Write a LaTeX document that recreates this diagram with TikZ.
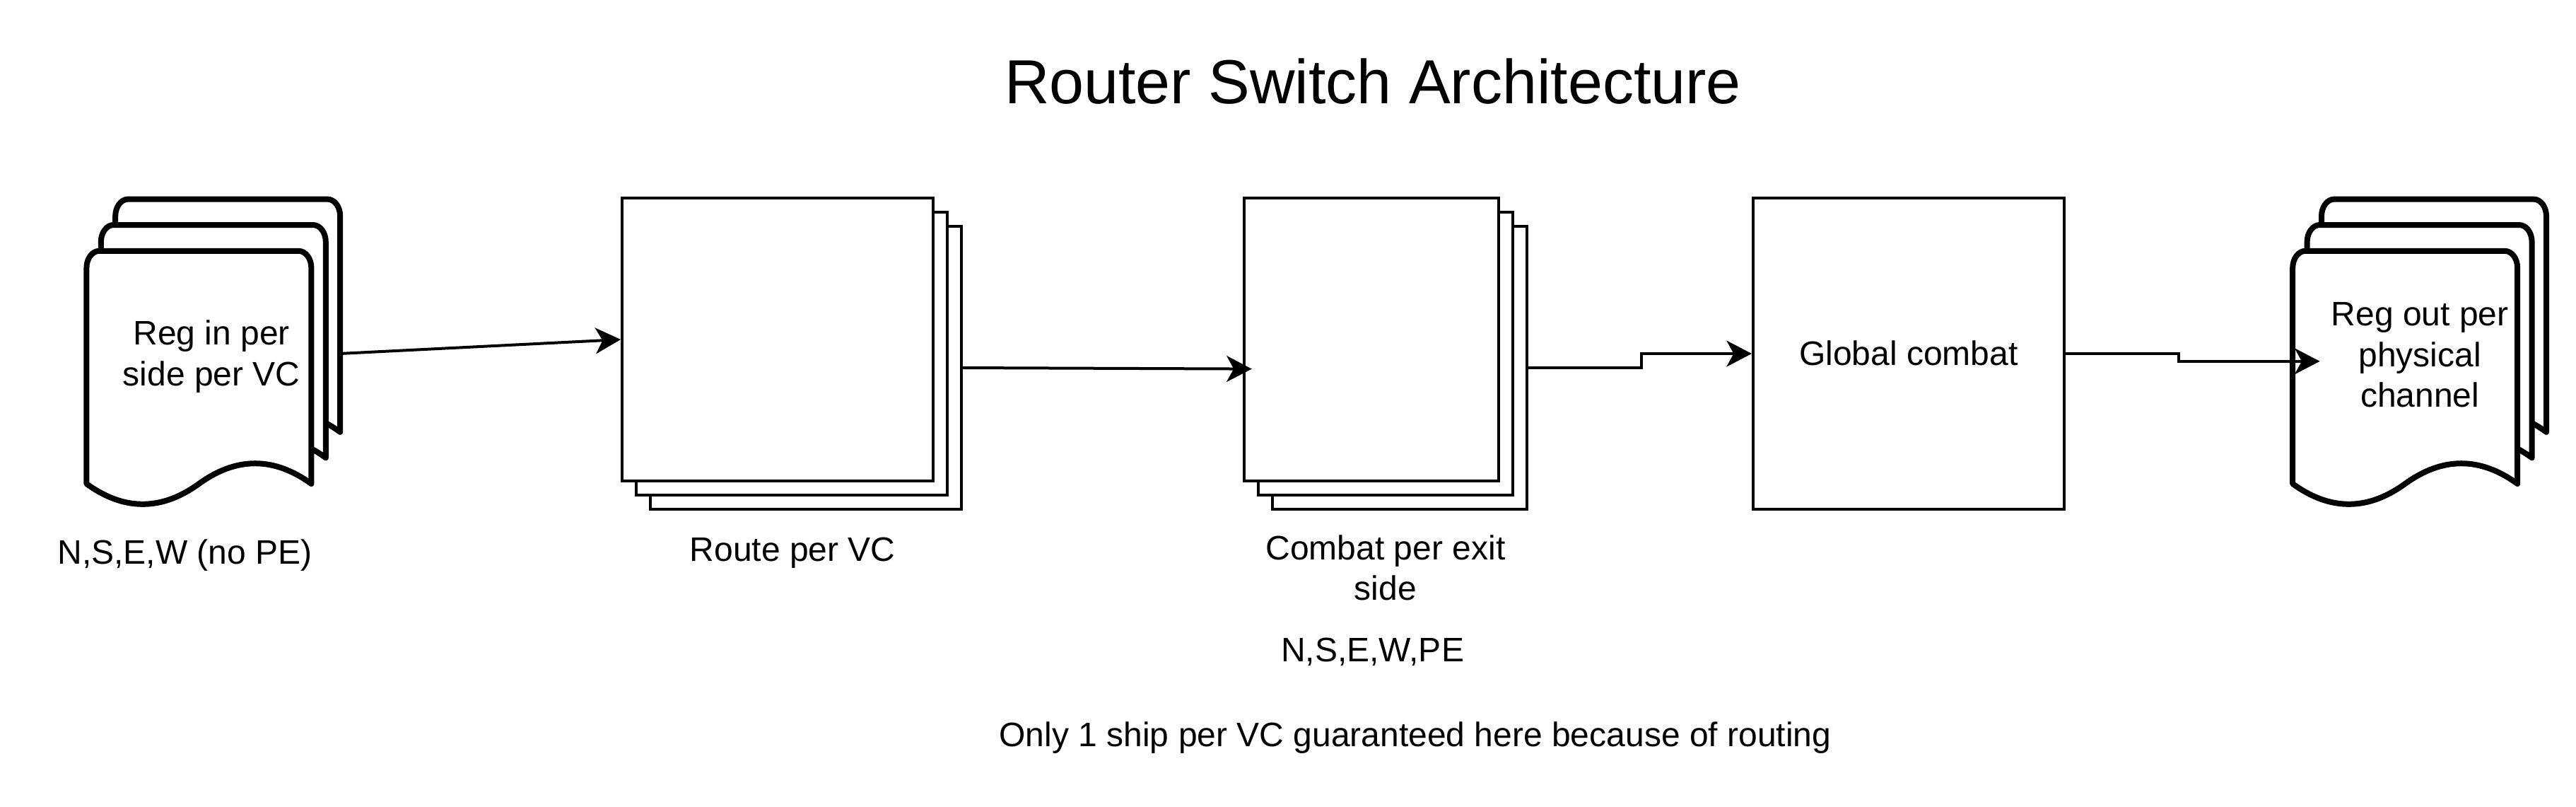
\documentclass[tikz,border=0pt]{standalone}
\usepackage{fontspec}
\setmainfont{Liberation Sans}
\usetikzlibrary{arrows.meta}
\newcommand\dstrut{\rule[-3.04pt]{0pt}{14.4pt}}
\newcommand\tstrut{\rule[-5.57pt]{0pt}{26.4pt}}
% one page of a stacked document: #1 = left x, #2 = top y
\newcommand\docpage[2]{%
  \path[docline] (#1,#2+82.3) -- (#1,#2+6)
    .. controls (#1,#2+2.7) and (#1+2,#2) .. (#1+4.5,#2)
    -- (#1+75,#2)
    .. controls (#1+77.5,#2) and (#1+79.5,#2+2.7) .. (#1+79.5,#2+6)
    -- (#1+79.5,#2+82.3)
    .. controls (#1+66.25,#2+72.7) and (#1+53,#2+72.7) .. (#1+39.75,#2+82.3)
    .. controls (#1+26.5,#2+91.9) and (#1+13.25,#2+91.9) .. (#1,#2+82.3) -- cycle;}
\tikzset{
  lbl/.style={inner sep=0pt, align=center, font=\fontsize{12}{14.4}\selectfont},
  ttl/.style={inner sep=0pt, font=\fontsize{22}{26.4}\selectfont},
  box/.style={draw, line width=1pt, fill=white, inner sep=0pt},
  docline/.style={draw, line width=2pt, fill=white, line join=round},
  arr/.style={line width=1pt, -{Stealth[length=8.9pt,width=9.2pt,inset=2.5pt]}},
}
\begin{document}
\begin{tikzpicture}[x=1pt, y=-1pt]
\useasboundingbox (0,0) rectangle (911,285);
\fill[white] (0,0) rectangle (911,285);

% title
\node[ttl] (title) at (485.5,29) {\tstrut Router Switch Architecture};

% left stacked documents
\docpage{40.8}{70.4}
\docpage{35.7}{79.5}
\docpage{30.6}{88.7}
\node[lbl, minimum width=90pt, minimum height=110pt] (regin) at (74.8,125)
  {\dstrut Reg in per\\\dstrut side per VC};
\node[lbl] (t1) at (65.4,195.3) {\dstrut N,S,E,W (no PE)};

% route stack
\node[box, minimum width=110pt, minimum height=100pt] (rb) at (285,130) {};
\node[box, minimum width=110pt, minimum height=100pt] (rm) at (280,125) {};
\node[box, minimum width=110pt, minimum height=100pt] (rf) at (275,120) {};
\node[lbl] (t2) at (280.3,194.2) {\dstrut Route per VC};

% combat stack
\node[box, minimum width=90pt, minimum height=100pt] (cb) at (495,130) {};
\node[box, minimum width=90pt, minimum height=100pt] (cm) at (490,125) {};
\node[box, minimum width=90pt, minimum height=100pt] (cf) at (485,120) {};
\node[lbl] (t3) at (490,200.8) {\dstrut Combat per exit\\\dstrut side};
\node[lbl] (t4) at (485.4,229.8) {\dstrut N,S,E,W,PE};
\node[lbl] (t5) at (500.5,259.8) {\dstrut Only 1 ship per VC guaranteed here because of routing};

% global combat
\node[box, lbl, draw, line width=1pt, minimum width=110pt, minimum height=110pt] (gc) at (675,125)
  {\dstrut Global combat};

% right stacked documents
\docpage{821.0}{70.4}
\docpage{815.9}{79.5}
\docpage{810.8}{88.7}
\node[lbl, minimum width=90pt, minimum height=110pt] (regout) at (855.8,125.4)
  {\dstrut Reg out per\\\dstrut physical\\\dstrut channel};

% connectors
\coordinate (ctip) at (442.7,130.4);
\coordinate (cstep) at (580.4,125);
\coordinate (rstep) at (770.4,127.7);
\coordinate (rotip) at (820.4,127.7);
\draw[arr] (regin.east) -- (rf.west);
\draw[arr] (rb.east) -- (ctip);
\draw[arr] (cb.east) -| (cstep) -- (gc.west);
\draw[arr] (gc.east) -| (rstep) -- (rotip);
\end{tikzpicture}
\end{document}
